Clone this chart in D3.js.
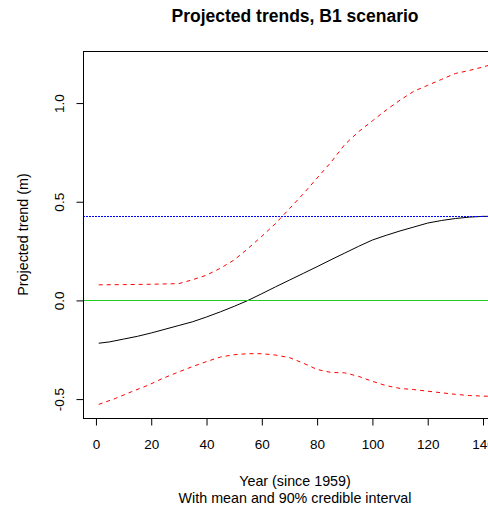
<!DOCTYPE html>
<meta charset="utf-8">
<script src="https://cdn.jsdelivr.net/npm/d3@7"></script>
<style>
body { margin: 0; background: #fff; }
svg { font-family: "Liberation Sans", Arial, sans-serif; }
</style>
<body>
<script>
// years since 1959
var meanYears = [1, 5, 10, 15, 20, 25, 30, 35, 40, 45, 50, 55, 60, 65, 70, 75, 80, 85, 90, 95, 100, 105, 110, 115, 120, 125, 130, 135, 140, 143]
var meanVals = [-0.217, -0.21, -0.196, -0.182, -0.165, -0.146, -0.127, -0.108, -0.084, -0.058, -0.03, 0.0, 0.034, 0.069, 0.103, 0.137, 0.171, 0.206, 0.24, 0.274, 0.306, 0.33, 0.352, 0.372, 0.392, 0.405, 0.415, 0.422, 0.426, 0.426]

var upperYears = [1, 10, 20, 30, 35, 40, 45, 50, 55, 60, 65, 70, 75, 80, 85, 90, 95, 100, 105, 110, 115, 120, 125, 130, 135, 140, 143]
var upperVals = [0.079, 0.08, 0.082, 0.085, 0.105, 0.128, 0.163, 0.205, 0.263, 0.325, 0.39, 0.465, 0.54, 0.62, 0.70, 0.79, 0.855, 0.91, 0.965, 1.015, 1.06, 1.09, 1.12, 1.15, 1.165, 1.183, 1.195]

var lowerYears = [1, 7, 13, 19, 24, 30, 35, 40, 45, 50, 55, 60, 65, 70, 75, 80, 85, 90, 95, 100, 105, 110, 115, 120, 125, 130, 135, 140, 143]
var lowerVals = [-0.527, -0.497, -0.462, -0.429, -0.396, -0.362, -0.335, -0.31, -0.287, -0.275, -0.27, -0.27, -0.277, -0.29, -0.318, -0.35, -0.365, -0.367, -0.385, -0.41, -0.432, -0.446, -0.452, -0.46, -0.468, -0.476, -0.482, -0.485, -0.486]

var xTicks = [0, 20, 40, 60, 80, 100, 120, 140]
var yTicks = [-0.5, 0.0, 0.5, 1.0]
var zeroLine = 0
var maxMean = d3.max(meanVals)

var W = 488, H = 506
var pL = 83, pR = 507, pT = 51, pB = 418

var svg = d3.select("body").append("svg").attr("width", W).attr("height", H)

// R style 4% padding on both axes
var xr = 143 - 1, yr = d3.max(upperVals) - d3.min(lowerVals)
var x = d3.scaleLinear().domain([1 - 0.04 * xr, 143 + 0.04 * xr]).range([pL, pR])
var y = d3.scaleLinear().domain([d3.min(lowerVals) - 0.04 * yr, d3.max(upperVals) + 0.04 * yr]).range([pB, pT])

svg.append("defs").append("clipPath").attr("id", "clip")
  .append("rect").attr("x", pL).attr("y", pT).attr("width", pR - pL).attr("height", pB - pT)

var plot = svg.append("g").attr("clip-path", "url(#clip)")

function series(xs, ys) { return xs.map((d, i) => [d, ys[i]]) }
var line = d3.line().x(d => x(d[0])).y(d => y(d[1]))

plot.append("path").datum(series(meanYears, meanVals)).attr("d", line)
  .attr("fill", "none").attr("stroke", "#000").attr("stroke-width", 1)
plot.append("path").datum(series(upperYears, upperVals)).attr("d", line)
  .attr("fill", "none").attr("stroke", "#ff0000").attr("stroke-width", 1).attr("stroke-dasharray", "4,4")
plot.append("path").datum(series(lowerYears, lowerVals)).attr("d", line)
  .attr("fill", "none").attr("stroke", "#ff0000").attr("stroke-width", 1).attr("stroke-dasharray", "4,4")

// reference lines
plot.append("line").attr("x1", pL).attr("x2", pR)
  .attr("y1", Math.round(y(zeroLine)) + 0.5).attr("y2", Math.round(y(zeroLine)) + 0.5)
  .attr("stroke", "#22cc22").attr("stroke-width", 1)
plot.append("line").attr("x1", pL).attr("x2", pR)
  .attr("y1", Math.round(y(maxMean)) + 0.5).attr("y2", Math.round(y(maxMean)) + 0.5)
  .attr("stroke", "#0000ff").attr("stroke-width", 1).attr("stroke-dasharray", "2,1")

// box
svg.append("rect").attr("x", pL + 0.5).attr("y", pT + 0.5)
  .attr("width", pR - pL).attr("height", pB - pT)
  .attr("fill", "none").attr("stroke", "#000")

// axes
var gx = svg.append("g").attr("transform", "translate(0," + (pB + 0.5) + ")")
  .call(d3.axisBottom(x).tickValues(xTicks).tickSize(7).tickPadding(14).tickFormat(d3.format("d")))
gx.select(".domain").remove()

var gy = svg.append("g").attr("transform", "translate(" + (pL + 0.5) + ",0)")
  .call(d3.axisLeft(y).tickValues(yTicks).tickSize(7).tickFormat(d => d.toFixed(1)))
gy.select(".domain").remove()
gy.selectAll(".tick text")
  .attr("transform", "rotate(-90)")
  .attr("x", 0).attr("y", -20)
  .attr("dy", 0)
  .attr("text-anchor", "middle")

svg.selectAll(".tick text").attr("font-size", "13.5px").attr("font-family", "Liberation Sans, Arial, sans-serif").attr("fill", "#000")
svg.selectAll(".tick line").attr("stroke", "#000")

// titles
svg.append("text").attr("x", (pL + pR) / 2).attr("y", 22)
  .attr("text-anchor", "middle").attr("font-weight", "bold").attr("font-size", "17.5px")
  .text("Projected trends, B1 scenario")

svg.append("text").attr("x", (pL + pR) / 2).attr("y", 486)
  .attr("text-anchor", "middle").attr("font-size", "14.3px")
  .text("Year (since 1959)")
svg.append("text").attr("x", (pL + pR) / 2).attr("y", 503)
  .attr("text-anchor", "middle").attr("font-size", "14.3px")
  .text("With mean and 90% credible interval")

svg.append("text")
  .attr("transform", "translate(28," + (pT + pB) / 2 + ") rotate(-90)")
  .attr("text-anchor", "middle").attr("font-size", "14.3px")
  .text("Projected trend (m)")
</script>
</body>
